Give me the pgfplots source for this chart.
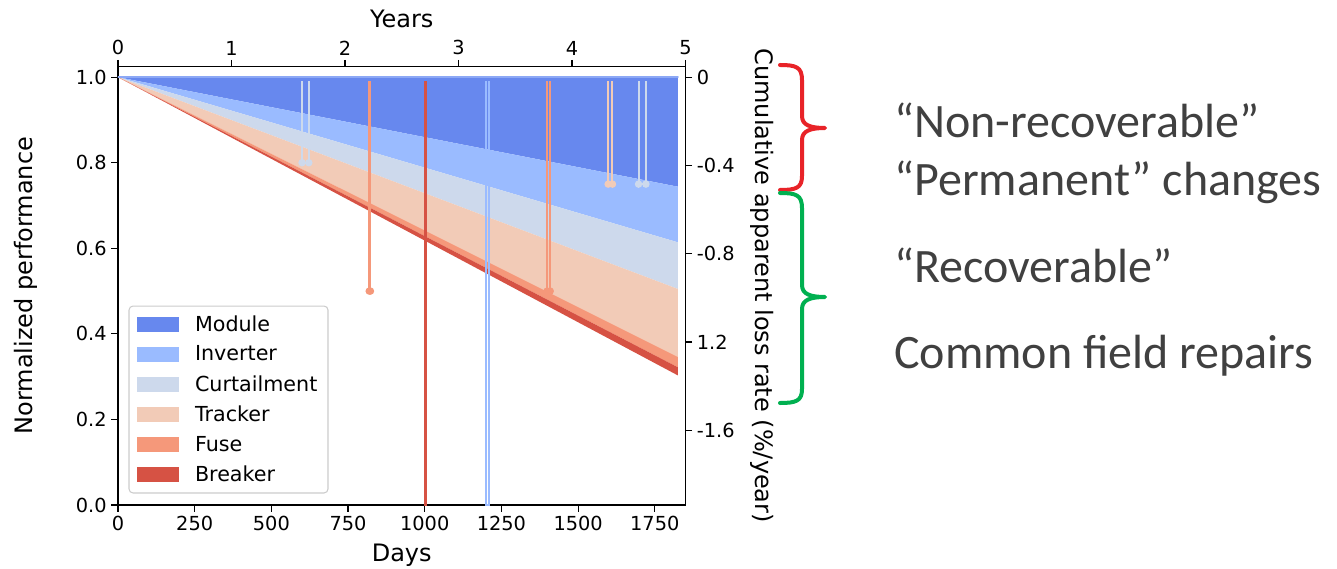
\documentclass[border=0pt]{standalone}
\usepackage{pgfplots}
\pgfplotsset{compat=1.18}
\usepackage{fontspec}
\setmainfont{DejaVu Sans}
\newfontfamily\carlito{Carlito}
\definecolor{cModule}{RGB}{103,136,238}
\definecolor{cInverter}{RGB}{154,187,255}
\definecolor{cCurt}{RGB}{205,217,236}
\definecolor{cTracker}{RGB}{242,203,183}
\definecolor{cFuse}{RGB}{245,152,122}
\definecolor{cBreaker}{RGB}{214,82,68}
\definecolor{cTop}{RGB}{140,168,245}
\definecolor{bRed}{RGB}{232,35,40}
\definecolor{bGreen}{RGB}{0,176,80}
\definecolor{txtGray}{RGB}{64,64,64}
\definecolor{legGray}{RGB}{204,204,204}
\begin{document}
\begin{tikzpicture}
\useasboundingbox (-88.5pt,-47.25pt) rectangle (914.25pt,378.75pt);
\begin{axis}[
  at={(0pt,0pt)}, anchor=south west,
  scale only axis, width=425.6pt, height=328.9pt,
  xmin=0, xmax=1850, ymin=0, ymax=1.025,
  xtick={0,250,500,750,1000,1250,1500,1750},
  xticklabels={0,250,500,750,1000,1250,1500,1750},
  ytick={0,0.2,0.4,0.6,0.8,1.0},
  yticklabels={0.0,0.2,0.4,0.6,0.8,1.0},
  xtick pos=bottom, ytick pos=left,
  tick align=outside, major tick length=5pt,
  tick style={black, line width=0.9pt},
  axis line style={line width=0.9pt},
  ticklabel style={font=\fontsize{14.5}{17}\selectfont},
  xlabel={Days}, ylabel={Normalized performance},
  label style={font=\fontsize{18}{21}\selectfont},
  xlabel style={at={(axis description cs:0.5,-0.1288)}, anchor=base, inner sep=0pt},
  ylabel style={at={(axis description cs:-0.1515,0.5)}, anchor=base, inner sep=0pt},
  legend style={at={(axis description cs:0.0185,0.0262)}, anchor=south west,
     draw=legGray, line width=0.8pt, rounded corners=3pt, fill=white,
     font=\fontsize{15.5}{18}\selectfont, inner xsep=6pt, inner ysep=5pt, row sep=5.5pt,
     /tikz/every odd column/.append style={column sep=10pt}},
  legend cell align=left,
  legend image code/.code={\fill[#1, sharp corners] (0pt,-5.5pt) rectangle (31.5pt,5.5pt);},
]
\addplot[fill=cModule, draw=none] coordinates {(0,1) (1825,1) (1825,0.744)};
\addlegendentry{Module}
\addplot[fill=cInverter, draw=none] coordinates {(0,1) (1825,0.744) (1825,0.614)};
\addlegendentry{Inverter}
\addplot[fill=cCurt, draw=none] coordinates {(0,1) (1825,0.614) (1825,0.505)};
\addlegendentry{Curtailment}
\addplot[fill=cTracker, draw=none] coordinates {(0,1) (1825,0.505) (1825,0.346)};
\addlegendentry{Tracker}
\addplot[fill=cFuse, draw=none] coordinates {(0,1) (1825,0.346) (1825,0.322)};
\addlegendentry{Fuse}
\addplot[fill=cBreaker, draw=none] coordinates {(0,1) (1825,0.322) (1825,0.303)};
\addlegendentry{Breaker}
\addplot[cTop, line width=1.5pt, line cap=round, forget plot] coordinates {(0,1) (1825,1)};
% spikes
\addplot[cCurt, line width=1.5pt, mark=*, mark size=2pt, mark indices={2,3}, forget plot] coordinates {(600,0.99) (600,0.80) (622,0.80) (622,0.99)};
\addplot[cFuse, line width=1.5pt, mark=*, mark size=2pt, mark indices={2,3}, forget plot] coordinates {(819,0.99) (819,0.50) (823,0.50) (823,0.99)};
\addplot[cBreaker, line width=1.5pt, forget plot] coordinates {(1000,0.99) (1000,0.0) (1004,0.0) (1004,0.99)};
\addplot[cInverter, line width=1.5pt, forget plot] coordinates {(1199,0.99) (1199,0.0) (1211,0.0) (1211,0.99)};
\addplot[cFuse, line width=1.5pt, mark=*, mark size=2pt, mark indices={2,3}, forget plot] coordinates {(1399,0.99) (1399,0.50) (1409,0.50) (1409,0.99)};
\addplot[cTracker, line width=1.5pt, mark=*, mark size=2pt, mark indices={2,3}, forget plot] coordinates {(1598,0.99) (1598,0.75) (1612,0.75) (1612,0.99)};
\addplot[cCurt, line width=1.5pt, mark=*, mark size=2pt, mark indices={2,3}, forget plot] coordinates {(1697,0.99) (1697,0.75) (1721,0.75) (1721,0.99)};
\end{axis}
\begin{axis}[
  at={(0pt,0pt)}, anchor=south west,
  scale only axis, width=425.6pt, height=328.9pt,
  xmin=0, xmax=5, ymin=-1.939, ymax=0.0485,
  axis x line*=top, axis y line*=right,
  xtick={0,1,2,3,4,5}, xticklabels={0,1,2,3,4,5},
  ytick={0,-0.4,-0.8,-1.2,-1.6}, yticklabels={0,-0.4,-0.8,1.2,-1.6},
  tick align=outside, major tick length=5pt,
  tick style={black, line width=0.9pt},
  axis line style={line width=0.9pt, -},
  ticklabel style={font=\fontsize{14.5}{17}\selectfont},
  xlabel={Years}, ylabel={Cumulative apparent loss rate (\%/year)},
  label style={font=\fontsize{18}{21}\selectfont},
  xlabel style={at={(axis description cs:0.5,1.089)}, anchor=base, inner sep=0pt},
  ylabel style={at={(axis description cs:1.1233,0.5)}, rotate=180, anchor=base, inner sep=0pt},
]
\addplot[draw=none] coordinates {(0,0)};
\end{axis}
\begin{scope}[shift={(-88.5pt,378.75pt)}, x=0.75pt, y=-0.75pt]
\draw[bRed, line width=3pt, line cap=round, line join=round]
  (780,65) .. controls (796,65) and (802,67) .. (802,80) -- (802,116)
  .. controls (802,125) and (810,128) .. (825,128)
  .. controls (810,128) and (802,131) .. (802,140) -- (802,176)
  .. controls (802,188) and (796,190) .. (780,190);
\draw[bGreen, line width=3pt, line cap=round, line join=round]
  (780,193) .. controls (796,193) and (802,195) .. (802,208) -- (802,285)
  .. controls (802,294) and (810,297) .. (825,297)
  .. controls (810,297) and (802,300) .. (802,309) -- (802,389)
  .. controls (802,401) and (796,403) .. (780,403);
\begin{scope}[every node/.style={anchor=base west, inner sep=0pt, text=txtGray, font=\carlito\fontsize{36}{40}\selectfont}]
\node at (894,138) {“Non-recoverable”};
\node at (894,195.5) {“Permanent” changes};
\node at (894,282) {“Recoverable”};
\node at (894,368) {Common field repairs};
\end{scope}
\end{scope}
\end{tikzpicture}
\end{document}
